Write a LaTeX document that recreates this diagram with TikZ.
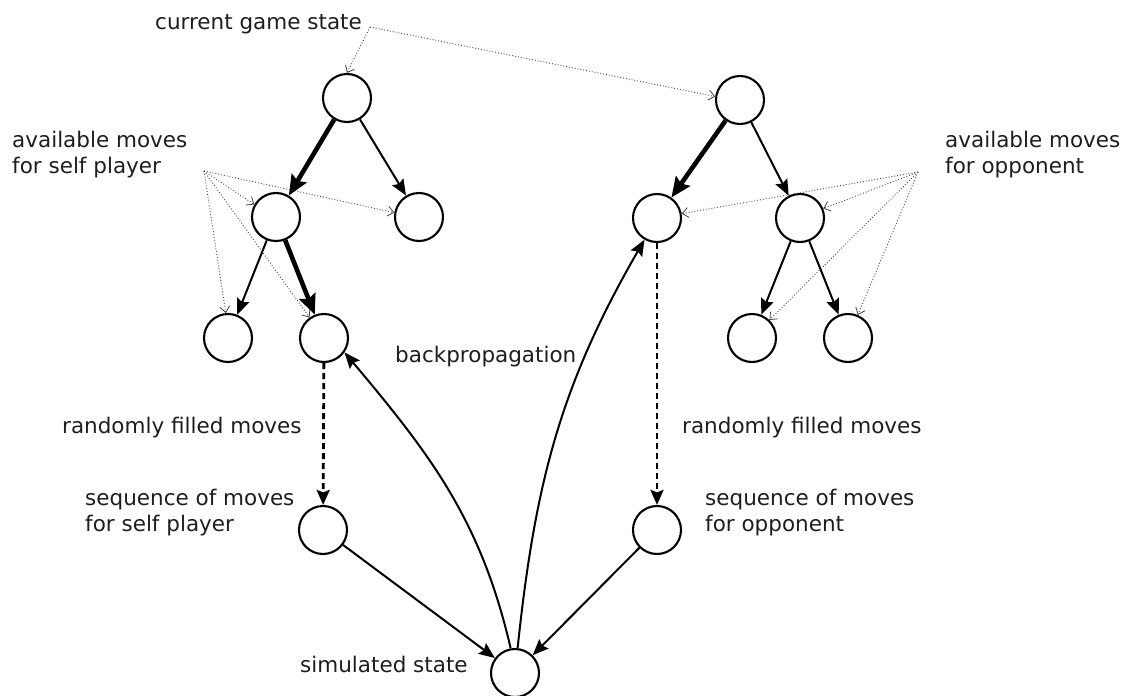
\documentclass[tikz,border=0pt]{standalone}
\usepackage{fontspec}
\setmainfont{DejaVu Sans}
\usetikzlibrary{arrows.meta}
\definecolor{txt}{HTML}{1E1E1E}
\definecolor{dotc}{HTML}{444444}
\begin{document}
\begin{tikzpicture}[x=1pt,y=-1pt,
  state/.style={circle,draw=black,line width=2.1pt,minimum size=48pt,inner sep=0pt},
  lbl/.style={anchor=base west,inner sep=0pt,text=txt,font=\fontsize{21.5}{25.5}\selectfont,align=left},
  move/.style={line width=2pt,-{Stealth[length=16pt,width=13pt,inset=2.5pt]}},
  best/.style={line width=4.6pt,-{Stealth[length=20pt,width=17pt,inset=3pt]}},
  rand/.style={line width=2.8pt,dash pattern=on 6pt off 4pt,-{Stealth[length=15pt,width=13pt,inset=2.5pt]}},
  hint/.style={draw=dotc,line width=0.9pt,dotted,-{Straight Barb[length=6pt,width=10pt,line width=0.8pt]}},
  back/.style={line width=2pt,-{Stealth[length=16pt,width=13pt,inset=2.5pt]}}]
\useasboundingbox (0,0) rectangle (1127,696);

% nodes
\node[state] (L0) at (347,98) {};
\node[state] (L1a) at (276,217) {};
\node[state] (L1b) at (419,217) {};
\node[state] (L2a) at (228,338) {};
\node[state] (L2b) at (324,338) {};
\node[state] (R0) at (740,100) {};
\node[state] (R1a) at (657,218) {};
\node[state] (R1b) at (800,218) {};
\node[state] (R2a) at (752,338) {};
\node[state] (R2b) at (848,338) {};
\node[state] (SL) at (323,530) {};
\node[state] (SR) at (657,530) {};
\node[state] (Sim) at (515,673) {};

% labels
\node[lbl] (tcur) at (155,29) {current game state};
\node[lbl] (tself) at (12,173) {available moves\\for self player};
\node[lbl] (topp) at (945,173) {available moves\\for opponent};
\node[lbl] (tback) at (395,362) {backpropagation};
\node[lbl] (trandL) at (62,433) {randomly filled moves};
\node[lbl] (trandR) at (682,433) {randomly filled moves};
\node[lbl] (tseqL) at (85,531) {sequence of moves\\for self player};
\node[lbl] (tseqR) at (705,531) {sequence of moves\\for opponent};
\node[lbl] (tsim) at (300,672) {simulated state};

% hint origins
\coordinate (oc) at (370,27);
\coordinate (os) at (204,171);
\coordinate (oo) at (918,172);

% tree moves
\draw[best] (L0) -- (L1a);
\draw[move] (L0) -- (L1b);
\draw[move] (L1a) -- (L2a);
\draw[best] (L1a) -- (L2b);
\draw[best] (R0) -- (R1a);
\draw[move] (R0) -- (R1b);
\draw[move] (R1b) -- (R2a);
\draw[move] (R1b) -- (R2b);

% random fill
\draw[rand] (L2b) -- (SL);
\draw[rand] (R1a) -- (SR);

% to simulated state
\draw[move] (SL) -- (Sim);
\draw[move] (SR) -- (Sim);

% backpropagation
\draw[back] (Sim.100) to[out=103,in=-50] (L2b.-35);
\draw[back] (Sim.84) to[out=84,in=-120] (R1a.-120);

% hints
\draw[hint] (oc) -- (L0.north);
\draw[hint] (oc) -- (R0.172);
\draw[hint] (os) -- (L1a.150);
\draw[hint] (os) -- (L1b.170);
\draw[hint] (os) -- (L2a.95);
\draw[hint] (os) -- (L2b.125);
\draw[hint] (oo) -- (R1a.10);
\draw[hint] (oo) -- (R1b.22);
\draw[hint] (oo) -- (R2a.46);
\draw[hint] (oo) -- (R2b.67);
\end{tikzpicture}
\end{document}
